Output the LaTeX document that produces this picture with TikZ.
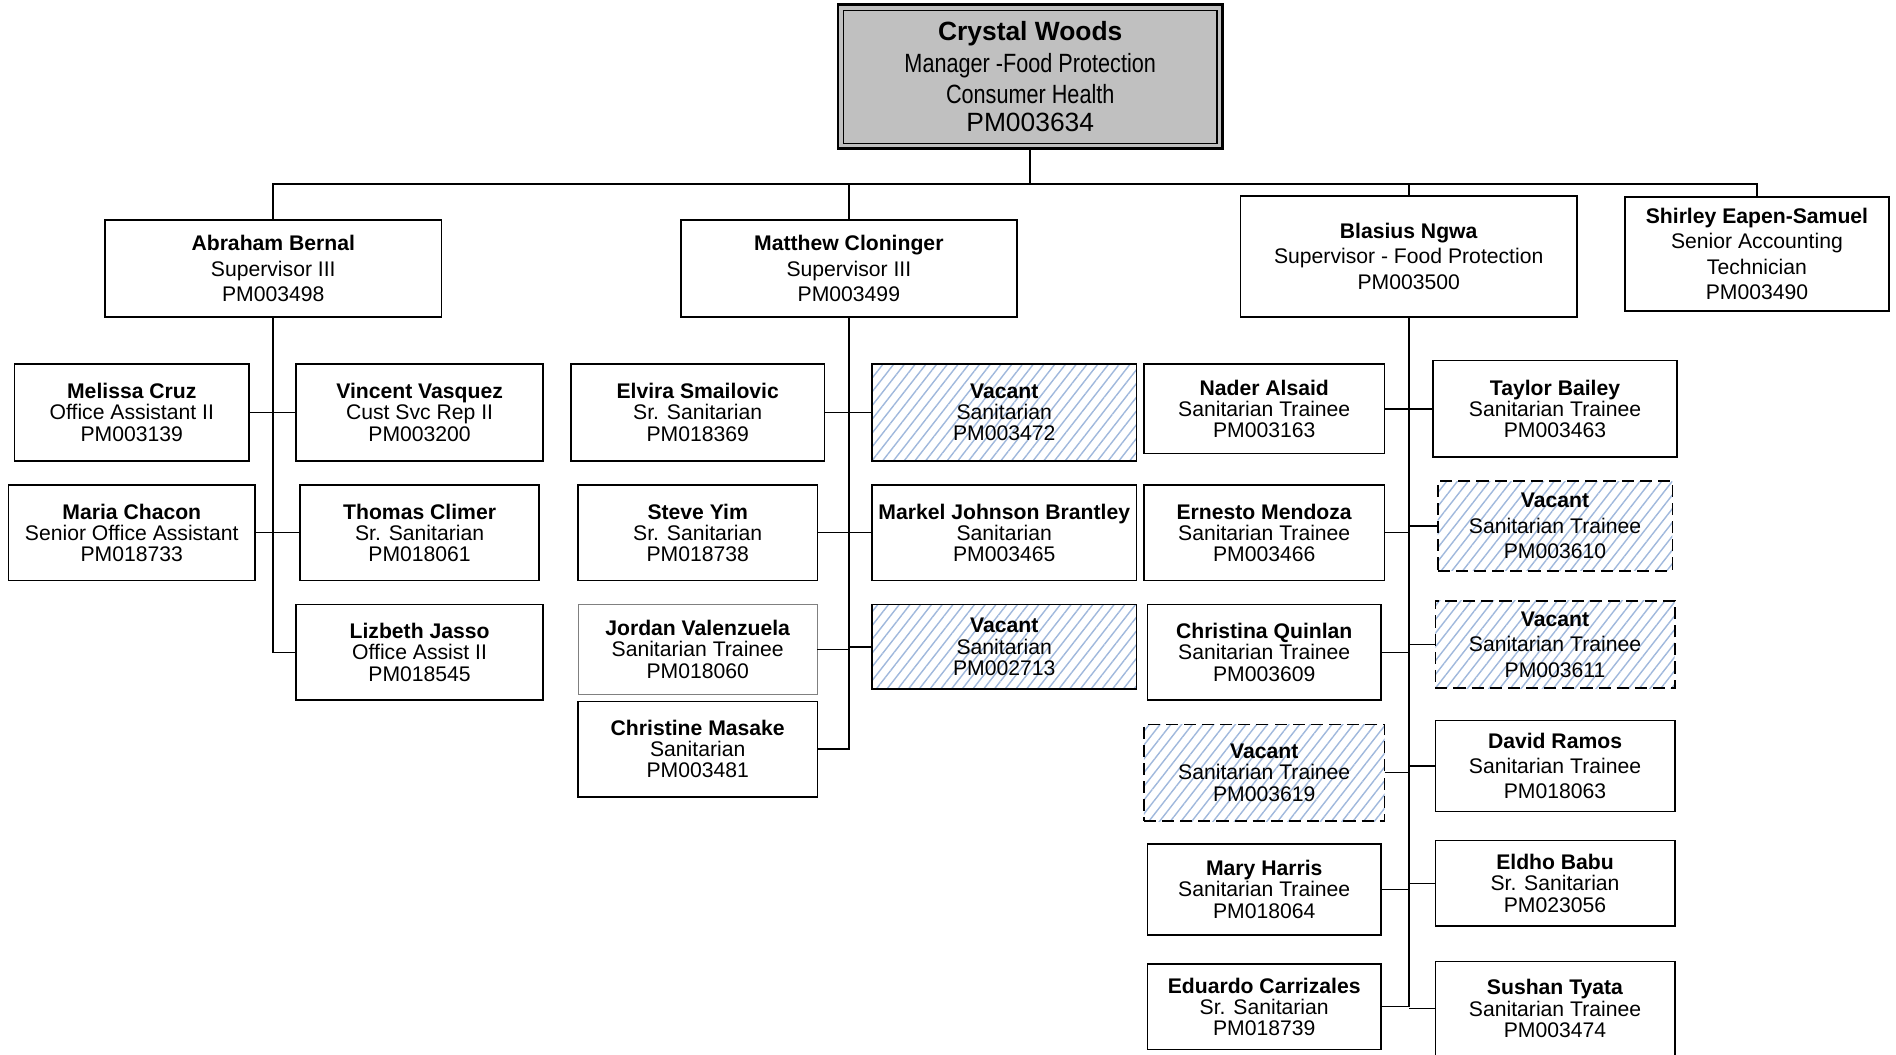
\documentclass[tikz,border=0pt]{standalone}
\usepackage{fontspec}
\setmainfont{Liberation Sans}
\newfontfamily\narrowfont[FakeStretch=0.82]{Liberation Sans}
\usetikzlibrary{patterns.meta}
\definecolor{hatch}{RGB}{160,184,220}
\definecolor{mgrgray}{RGB}{192,192,192}
\newcommand\pbox[7]{\node[#6, minimum width={(#4-#2)*0.6pt}, minimum height={(#5-#3)*0.6pt}] (#1) at ({(#2+#4)/2},{(#3+#5)/2}) {#7};}
\begin{document}
\begin{tikzpicture}[x=0.6pt,y=-0.6pt,
 emp/.style={draw, line width=0.8pt, inner sep=0pt, outer sep=0pt, align=center, font=\fontsize{10.5}{10.5}\selectfont},
 wide/.style={font=\fontsize{10.5}{12.6}\selectfont},
 vac/.style={emp, pattern={Lines[angle=52,distance=4.2pt,line width=0.7pt]}, pattern color=hatch},
 vacd/.style={vac, dash pattern=on 6pt off 3pt},
 thinbox/.style={emp, draw=gray, line width=0.4pt},
 conn/.style={line width=0.8pt}]
\useasboundingbox (0,0) rectangle (1568,872);

% manager
\pbox{top}{693}{4}{1011}{123}{draw, line width=1.4pt, fill=mgrgray, inner sep=0pt, outer sep=0pt, align=center, font=\fontsize{13.1}{15.6}\selectfont}{\textbf{Crystal Woods}\\{\narrowfont Manager -Food Protection}\\{\narrowfont Consumer Health}\\[-1.8pt]PM003634}
\draw[line width=0.6pt] ([shift={(2.7pt,-2.7pt)}]top.north west) rectangle ([shift={(-2.7pt,2.7pt)}]top.south east);

% supervisors
\pbox{abr}{87}{182}{365}{262}{emp,wide}{\textbf{Abraham Bernal}\\Supervisor III\\PM003498}
\pbox{mat}{563}{182}{841}{262}{emp,wide}{\textbf{Matthew Cloninger}\\Supervisor III\\PM003499}
\pbox{bla}{1026}{162}{1304}{262}{emp,wide}{\textbf{Blasius Ngwa}\\Supervisor - Food Protection\\PM003500}
\pbox{shi}{1344}{163}{1562}{257}{emp,wide}{\textbf{Shirley Eapen-Samuel}\\Senior Accounting\\Technician\\PM003490}

% Abraham's team
\pbox{mel}{12}{301}{206}{381}{emp}{\textbf{Melissa Cruz}\\Office Assistant II\\PM003139}
\pbox{vin}{245}{301}{449}{381}{emp}{\textbf{Vincent Vasquez}\\Cust Svc Rep II\\PM003200}
\pbox{mar}{7}{401}{211}{480}{emp}{\textbf{Maria Chacon}\\Senior Office Assistant\\PM018733}
\pbox{tho}{248}{401}{446}{480}{emp}{\textbf{Thomas Climer}\\Sr. Sanitarian\\PM018061}
\pbox{liz}{245}{500}{449}{579}{emp}{\textbf{Lizbeth Jasso}\\Office Assist II\\PM018545}

% Matthew's team
\pbox{elv}{472}{301}{682}{381}{emp}{\textbf{Elvira Smailovic}\\Sr. Sanitarian\\PM018369}
\pbox{vaca}{721}{301}{940}{381}{vac}{\textbf{Vacant}\\Sanitarian\\PM003472}
\pbox{ste}{478}{401}{676}{480}{emp}{\textbf{Steve Yim}\\Sr. Sanitarian\\PM018738}
\pbox{mjb}{721}{401}{940}{480}{emp}{\textbf{Markel Johnson Brantley}\\Sanitarian\\PM003465}
\pbox{jor}{478}{500}{676}{574}{thinbox}{\textbf{Jordan Valenzuela}\\Sanitarian Trainee\\PM018060}
\pbox{vacb}{721}{500}{940}{570}{vac}{\textbf{Vacant}\\Sanitarian\\PM002713}
\pbox{chr}{478}{580}{676}{659}{emp}{\textbf{Christine Masake}\\Sanitarian\\PM003481}

% Blasius's team
\pbox{nad}{946}{301}{1145}{375}{emp}{\textbf{Nader Alsaid}\\Sanitarian Trainee\\PM003163}
\pbox{tay}{1185}{298}{1387}{378}{emp}{\textbf{Taylor Bailey}\\Sanitarian Trainee\\PM003463}
\pbox{ern}{946}{401}{1145}{480}{emp}{\textbf{Ernesto Mendoza}\\Sanitarian Trainee\\PM003466}
\pbox{vacc}{1189}{398}{1383}{472}{vacd,wide}{\textbf{Vacant}\\Sanitarian Trainee\\PM003610}
\pbox{cqu}{949}{500}{1142}{579}{emp}{\textbf{Christina Quinlan}\\Sanitarian Trainee\\PM003609}
\pbox{vacd}{1187}{497}{1385}{569}{vacd,wide}{\textbf{Vacant}\\Sanitarian Trainee\\PM003611}
\pbox{vace}{946}{599}{1145}{679}{vacd}{\textbf{Vacant}\\Sanitarian Trainee\\PM003619}
\pbox{dav}{1187}{596}{1385}{671}{emp,wide}{\textbf{David Ramos}\\Sanitarian Trainee\\PM018063}
\pbox{mha}{949}{698}{1142}{773}{emp}{\textbf{Mary Harris}\\Sanitarian Trainee\\PM018064}
\pbox{eld}{1187}{695}{1385}{766}{emp}{\textbf{Eldho Babu}\\Sr. Sanitarian\\PM023056}
\pbox{edu}{949}{797}{1142}{868}{emp}{\textbf{Eduardo Carrizales}\\Sr. Sanitarian\\PM018739}
\pbox{sus}{1187}{795}{1385}{873}{emp}{\textbf{Sushan Tyata}\\Sanitarian Trainee\\PM003474}

% connectors
\coordinate (bus) at (852,152);
\draw[conn] (top.south) -- (top.south |- bus);
\draw[conn] (abr.north) -- (abr.north |- bus) -- (shi.north |- bus) -- (shi.north);
\draw[conn] (mat.north) -- (mat.north |- bus);
\draw[conn] (bla.north) -- (bla.north |- bus);

\draw[conn] (abr.south) |- (liz.west);
\draw[conn] (mel.east) -- (vin.west);
\draw[conn] (mar.east) -- (tho.west);

\draw[conn] (mat.south) |- (chr.east);
\draw[conn] (elv.east) -- (vaca.west);
\draw[conn] (ste.east) -- (mjb.west);
\draw[conn] (jor.east) -- (jor.east -| mat.south);
\draw[conn] (vacb.west) -- (vacb.west -| mat.south);

\draw[conn] (bla.south) |- (edu.east);
\foreach \l in {nad,ern,cqu,vace,mha}
  \draw[conn] (\l.east) -- (\l.east -| bla.south);
\foreach \r in {tay,vacc,vacd,dav,eld,sus}
  \draw[conn] (\r.west) -- (\r.west -| bla.south);
\end{tikzpicture}
\end{document}
